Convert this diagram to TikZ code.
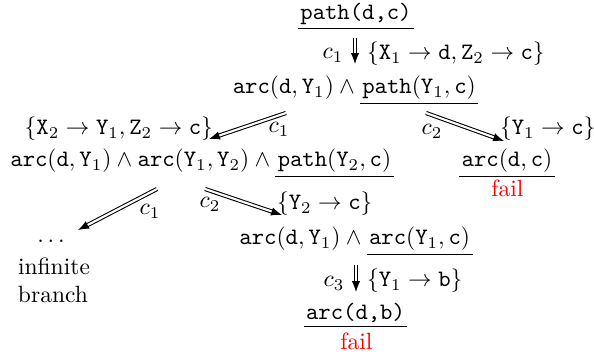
\documentclass[tikz,border=0pt]{standalone}
\usetikzlibrary{arrows.meta}
\newcommand\ulx[1]{\underline{\kern1pt#1\kern1pt}}
\begin{document}
\begin{tikzpicture}[x=0.425pt,y=-0.425pt,
  txt/.style={anchor=base,inner sep=0pt,outer sep=0pt},
  darr/.style={double,double distance=0.9pt,line width=0.45pt,-{Latex[length=4.6pt,width=3.6pt]}},
  failtxt/.style={txt,text=red}]
\useasboundingbox (0,0) rectangle (594,358);
% row 0
\node[txt] (n0) at (356,20) {\ulx{\texttt{path(d,c)}}};
\coordinate (a0s) at (355,38);
\coordinate (a0e) at (355,64);
\draw[darr] (a0s) -- (a0e);
\node[txt] (l0) at (333,59) {$c_1$};
\node[txt,anchor=base west] (s0) at (367,60) {$\{\mathtt{X}_1\to\mathtt{d},\mathtt{Z}_2\to\mathtt{c}\}$};
% row 1
\node[txt] (n1) at (355.5,94) {$\mathtt{arc}(\mathtt{d},\mathtt{Y}_1)\wedge\ulx{\mathtt{path}(\mathtt{Y}_1,\mathtt{c})}$};
\coordinate (a1Ls) at (286,113);
\coordinate (a1Le) at (209,139);
\draw[darr] (a1Ls) -- (a1Le);
\node[txt] (l1L) at (279,133) {$c_1$};
\node[txt,anchor=base east] (s1L) at (213,135) {$\{\mathtt{X}_2\to\mathtt{Y}_1,\mathtt{Z}_2\to\mathtt{c}\}$};
\coordinate (a1Rs) at (426,113);
\coordinate (a1Re) at (504,141);
\draw[darr] (a1Rs) -- (a1Re);
\node[txt] (l1R) at (432,135) {$c_2$};
\node[txt,anchor=base west] (s1R) at (500,135) {$\{\mathtt{Y}_1\to\mathtt{c}\}$};
% row 2
\node[txt] (n2) at (202,167) {$\mathtt{arc}(\mathtt{d},\mathtt{Y}_1)\wedge\mathtt{arc}(\mathtt{Y}_1,\mathtt{Y}_2)\wedge\ulx{\mathtt{path}(\mathtt{Y}_2,\mathtt{c})}$};
\node[txt] (n3) at (507,167) {$\ulx{\mathtt{arc}(\mathtt{d},\mathtt{c})}$};
\node[failtxt] (f3) at (507.5,197) {fail};
\coordinate (a2Ls) at (157,189);
\coordinate (a2Le) at (78,230);
\draw[darr] (a2Ls) -- (a2Le);
\node[txt] (l2L) at (150,215) {$c_1$};
\coordinate (a2Rs) at (205,189);
\coordinate (a2Re) at (282,215);
\draw[darr] (a2Rs) -- (a2Re);
\node[txt] (l2R) at (210,208) {$c_2$};
\node[txt,anchor=base west] (s2R) at (277,210) {$\{\mathtt{Y}_2\to\mathtt{c}\}$};
% infinite branch
\node[txt] (dots) at (51,243) {$\ldots$};
\node[txt] (inf1) at (54,275) {infinite};
\node[txt] (inf2) at (53,303) {branch};
% row 3
\node[txt] (n4) at (356,245) {$\mathtt{arc}(\mathtt{d},\mathtt{Y}_1)\wedge\ulx{\mathtt{arc}(\mathtt{Y}_1,\mathtt{c})}$};
\coordinate (a3s) at (356,265);
\coordinate (a3e) at (356,292);
\draw[darr] (a3s) -- (a3e);
\node[txt] (l3) at (334,287) {$c_3$};
\node[txt,anchor=base west] (s3) at (367,287) {$\{\mathtt{Y}_1\to\mathtt{b}\}$};
% row 4
\node[txt] (n5) at (355.5,320) {\ulx{\texttt{arc(d,b)}}};
\node[failtxt] (f5) at (356.5,350) {fail};
\end{tikzpicture}
\end{document}
